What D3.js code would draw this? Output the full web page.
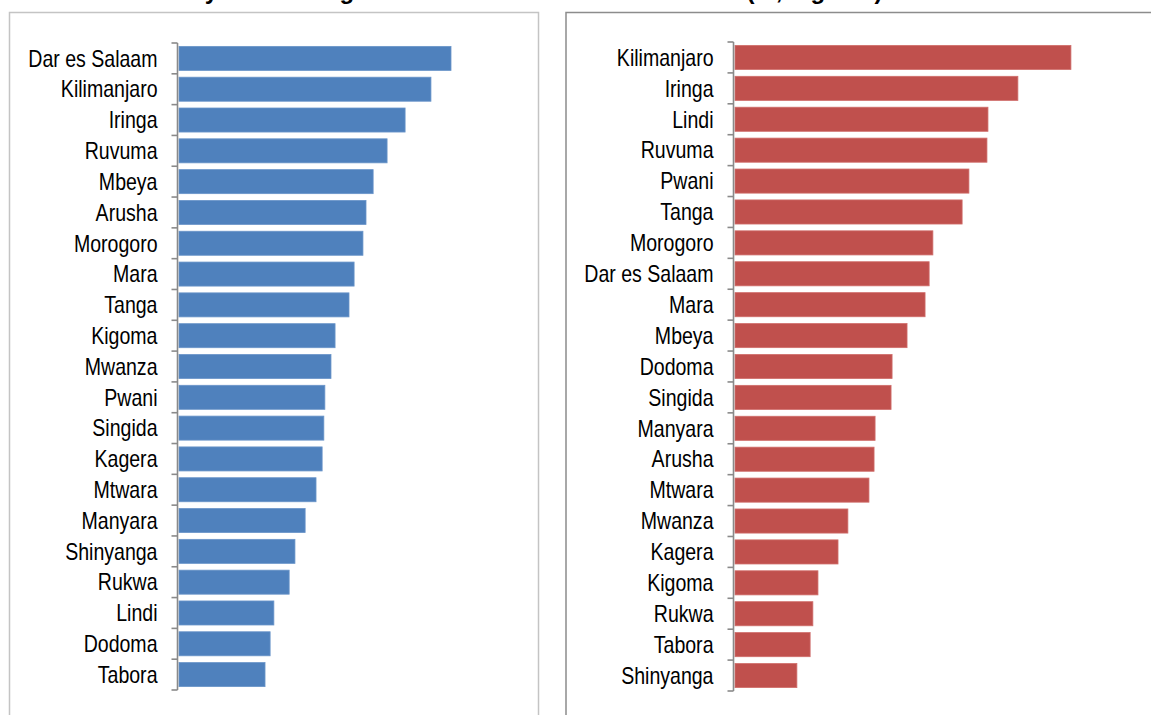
<!DOCTYPE html>
<html>
<head>
<meta charset="utf-8">
<script src="https://cdn.jsdelivr.net/npm/d3@7"></script>
<style>
  html, body { margin: 0; padding: 0; background: #fff; }
  svg { display: block; }
  .lbl { font-family: "Liberation Sans", Arial, sans-serif; font-size: 23px; fill: #000; }
  .ttl { font-family: "Liberation Sans", Arial, sans-serif; font-size: 24px; font-weight: bold; fill: #000; }
</style>
</head>
<body>
<svg id="chart" width="1151" height="715"></svg>
<script>
// ---- Data (arbitrary units) ----
const leftTitle = "Literacy rate among adults";
const leftRegions = ["Dar es Salaam","Kilimanjaro","Iringa","Ruvuma","Mbeya","Arusha","Morogoro","Mara","Tanga","Kigoma","Mwanza","Pwani","Singida","Kagera","Mtwara","Manyara","Shinyanga","Rukwa","Lindi","Dodoma","Tabora"];
const leftValues = [80.0,74.1,66.5,61.2,57.1,55.0,54.1,51.5,50.0,45.9,44.7,42.9,42.6,42.1,40.3,37.1,34.1,32.4,27.9,26.8,25.3];

const rightTitle = "Share of income (%, highest)";
const rightRegions = ["Kilimanjaro","Iringa","Lindi","Ruvuma","Pwani","Tanga","Morogoro","Dar es Salaam","Mara","Mbeya","Dodoma","Singida","Manyara","Arusha","Mtwara","Mwanza","Kagera","Kigoma","Rukwa","Tabora","Shinyanga"];
const rightValues = [98.8,83.2,74.4,74.1,68.8,66.8,58.2,57.1,55.9,50.6,46.2,45.9,41.2,40.9,39.4,33.2,30.3,24.4,22.9,22.1,18.2];

const svg = d3.select("#chart");
const narrow = 0.85; // emulate a condensed (Arial Narrow-like) label face

function panel(opts) {
  const g = svg.append("g");
  g.append("rect")
    .attr("x", opts.frame[0]).attr("y", opts.frame[1])
    .attr("width", opts.frame[2]).attr("height", opts.frame[3])
    .attr("fill", "#fff").attr("stroke", opts.frameColor).attr("stroke-width", 1.5);

  g.append("text").attr("class", "ttl")
    .attr("x", opts.titleX).attr("y", -1)
    .text(opts.title);

  const y = d3.scaleBand().domain(opts.cats).range(opts.yRange)
    .paddingInner(0.22).paddingOuter(0.11);
  const x = d3.scaleLinear().domain([0, 100]).range(opts.xRange);

  g.selectAll("rect.bar").data(opts.cats.map((c, i) => ({c, v: opts.vals[i]})))
    .enter().append("rect").attr("class", "bar")
    .attr("x", x(0))
    .attr("y", d => y(d.c))
    .attr("width", d => x(d.v) - x(0))
    .attr("height", y.bandwidth())
    .attr("fill", opts.color)
    .attr("stroke", opts.edge).attr("stroke-width", 0.8);

  const axX = x(0) - 1.5;
  const gap = y.step() * y.paddingInner();
  const bounds = opts.cats.map(c => y(c) - gap / 2).concat([y(opts.cats[opts.cats.length - 1]) + y.bandwidth() + gap / 2]);
  g.append("line")
    .attr("x1", axX).attr("x2", axX)
    .attr("y1", bounds[0]).attr("y2", bounds[bounds.length - 1])
    .attr("stroke", "#8a8a8a").attr("stroke-width", 1.6);
  g.selectAll("line.tk").data(bounds).enter().append("line").attr("class", "tk")
    .attr("x1", axX - 6).attr("x2", axX)
    .attr("y1", d => d).attr("y2", d => d)
    .attr("stroke", "#8a8a8a").attr("stroke-width", 1.6);

  g.selectAll("text.lbl").data(opts.cats).enter().append("text").attr("class", "lbl")
    .attr("transform", d => `translate(${axX - 20},${y(d) + y.bandwidth() / 2}) scale(${narrow},1)`)
    .attr("dy", "0.36em")
    .attr("text-anchor", "end")
    .text(d => d);
}

panel({
  frame: [9.5, 12.5, 529, 720], frameColor: "#c4c4c4",
  title: leftTitle, titleX: 126,
  cats: leftRegions, vals: leftValues,
  yRange: [43, 690], xRange: [179, 519],
  color: "#4f81bd", edge: "#6a95c9"
});
panel({
  frame: [566, 12.5, 620, 720], frameColor: "#8c8c8c",
  title: rightTitle, titleX: 553,
  cats: rightRegions, vals: rightValues,
  yRange: [42, 691], xRange: [735, 1075],
  color: "#c0504d", edge: "#d06e6b"
});
</script>
</body>
</html>
